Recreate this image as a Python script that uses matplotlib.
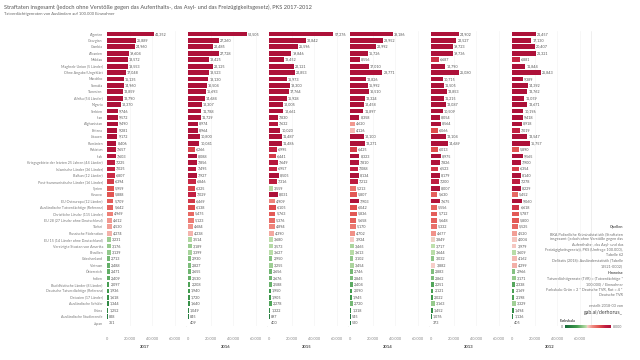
import numpy as np
import matplotlib.pyplot as plt
from matplotlib.colors import LinearSegmentedColormap, Normalize

plt.rcParams['font.family'] = ['Lato', 'DejaVu Sans']

# categories (sorted by 2017)
labels = ['Algerien', 'Georgien', 'Gambia', 'Albanien', 'Moldau',
          'Maghreb-Union (5 Länder)', 'Ohne Angabe/Ungeklärt', 'Marokko', 'Somalia',
          'Tunesien', 'Afrika (54 Länder)', 'Nigeria', 'Serbien', 'Iran', 'Afghanistan',
          'Eritrea', 'Litauen', 'Rumänien', 'Pakistan', 'Irak',
          'Kriegsgebiete der letzten 25 Jahren (44 Länder)', 'Islamische Länder (36 Länder)',
          'Balkan (12 Länder)', 'Post-kommunistische Länder (16 Länder)', 'Syrien', 'Kosovo',
          'EU Osteuropa (12 Länder)', 'Ausländische Tatverdächtige (Referenz)',
          'Christliche Länder (115 Länder)', 'EU 28 (27 Länder ohne Deutschland)', 'Türkei',
          'Russische Föderation', 'EU 15 (14 Länder ohne Deutschland)',
          'Vereinigte Staaten von Amerika', 'Brasilien', 'Griechenland', 'Vietnam',
          'Österreich', 'Indien', 'Buddhistische Länder (8 Länder)',
          'Deutsche Tatverdächtige (Referenz)', 'Ostasien (17 Länder)', 'Ausländische Schüler',
          'China', 'Ausländische Studierende', 'Japan']

years = ['2017', '2016', '2015', '2014', '2013', '2012']

v2017 = [41352, 25889, 24960, 19604, 18572, 18553, 17048, 15135, 14960, 13859, 13790, 12370,
         9746, 9572, 9490, 9281, 9172, 8406, 7657, 7603, 7225, 7025, 6807, 6394, 5959, 5888,
         5709, 5642, 4969, 4612, 4530, 4274, 3231, 3176, 3139, 2713, 2488, 2471, 2409, 2097,
         1936, 1618, 1344, 1252, 828, 351]
v2016 = [52505, 27260, 22485, 27728, 18425, 22125, 18523, 18130, 16504, 15693, 14684, 12307,
         11788, 11729, 8974, 8964, 10800, 10041, 6266, 8088, 7856, 7495, 7927, 6846, 6325, 7029,
         6469, 6138, 5475, 5123, 4684, 4238, 3514, 3189, 3399, 2930, 2827, 2655, 2530, 2208,
         1940, 1720, 1640, 1049, 845, 409]
v2015 = [57276, 32842, 25596, 19846, 13452, 22121, 22853, 15973, 18300, 17764, 15928, 12005,
         12661, 7830, 7632, 10020, 11487, 11486, 6995, 6441, 7649, 6957, 8505, 7316, 3559, 8031,
         4909, 6105, 5763, 5376, 4894, 4390, 3680, 3573, 3627, 2950, 3255, 2656, 2676, 2588,
         1950, 1905, 2278, 1322, 897, 400]
v2014 = [38186, 28952, 22992, 15726, 8556, 17010, 28771, 13826, 15992, 16510, 13324, 12458,
         11897, 8358, 4620, 4126, 12100, 13271, 6425, 8323, 7810, 7088, 8134, 7212, 5213, 5807,
         7903, 6042, 5836, 5658, 5170, 4702, 3924, 3465, 3613, 3102, 3454, 2746, 2845, 2404,
         2090, 1945, 2720, 1318, 545, 520]
v2013 = [24902, 22527, 19723, 19736, 6687, 12790, 25080, 10715, 11505, 13853, 11215, 13087,
         10509, 8054, 8564, 6066, 13104, 14689, 6013, 8975, 7826, 6523, 8179, 7200, 8007, 5630,
         7675, 5556, 5712, 5648, 5332, 4677, 3849, 3717, 3644, 3032, 3882, 2883, 2862, 2251,
         2121, 2022, 3163, 1452, 1076, 373]
v2012 = [21457, 17130, 20407, 21321, 6881, 11844, 25843, 9389, 14392, 13762, 11059, 13671,
         10196, 9418, 8918, 7019, 13547, 15757, 5890, 9565, 7900, 6354, 8140, 7278, 8229, 5452,
         9060, 6618, 5787, 5800, 5525, 4520, 4004, 3979, 3609, 4162, 4299, 2966, 3171, 2338,
         2169, 2198, 3329, 1494, 1136, 405]
series = [v2017, v2016, v2015, v2014, v2013, v2012]

xticks = [0, 20000, 40000, 60000]
xticklabels = ['0', '20.000', '40.000', '60.000']

# green -> red scale, 0 .. 8.000
cmap = LinearSegmentedColormap.from_list('rg', [
    (0.0, '#17693a'), (0.25, '#3f9a4c'), (0.47, '#c3e2b0'), (0.485, '#f6cfc9'),
    (0.6, '#f08a80'), (0.75, '#e0504e'), (0.88, '#c21f42'), (1.0, '#ad1139')])
norm = Normalize(0, 8000, clip=True)

grey = '#6e6e6e'
W, H = 640, 360
fig = plt.figure(figsize=(6.4, 3.6), dpi=100)

n = len(labels)
y = np.arange(n)
top_px, bot_px = 30.8, 326.3
px_per = 22.5 / 20000
for i, (yr, vals) in enumerate(zip(years, series)):
    zero = 107 + 81 * i
    left = zero - 2500 * px_per
    width = 72500 * px_per
    ax = fig.add_axes([left / W, 1 - bot_px / H, width / W, (bot_px - top_px) / H])
    ax.barh(y, vals, height=0.74, color=cmap(norm(np.array(vals))), zorder=2)
    for yy, v in zip(y, vals):
        ax.text(v + 900, yy, f'{v:,}', va='center', ha='left', fontsize=2.7, color='#555555')
    ax.set_xlim(-2500, 70000)
    ax.set_ylim(n - 0.5, -0.5)
    ax.set_xticks(xticks)
    ax.set_xticklabels(xticklabels)
    ax.tick_params(axis='x', length=0, labelsize=2.8, labelcolor='#888888', pad=8)
    for g in xticks[1:]:
        ax.axvline(g, color='#f1f1f1', lw=0.4, zorder=0)
    for s in ['top', 'bottom', 'left']:
        ax.spines[s].set_visible(False)
    ax.spines['right'].set_color('#e4e4e4')
    ax.spines['right'].set_linewidth(0.4)
    if i == 0:
        ax.set_yticks(y)
        ax.set_yticklabels(labels)
        ax.tick_params(axis='y', length=0, labelsize=2.6, labelcolor='#777777', pad=1)
    else:
        ax.set_yticks([])
    fig.text((zero + 38) / W, 1 - 347 / H, yr, ha='center', va='center',
             fontsize=3.0, color='#444444', fontweight='bold')

fig.text(4 / W, 1 - 7 / H,
         'Straftaten insgesamt (jedoch ohne Verstöße gegen das Aufenthalts-, das Asyl- und das '
         'Freizügigkeitsgesetz), PKS 2017-2012',
         ha='left', va='center', fontsize=4.1, color='#555555')
fig.text(4 / W, 1 - 14 / H, 'Tatverdächtigenraten von Ausländern auf 100.000 Einwohner',
         ha='left', va='center', fontsize=3.0, color='#666666')

# notes on the right
rx = 623 / W
fig.text(rx, 1 - 226 / H, 'Quellen', ha='right', va='center', fontsize=2.7,
         color='#555555', fontweight='bold')
fig.text(rx, 1 - 232 / H,
         'BKA Polizeiliche Kriminalstatistik (Straftaten\n'
         'insgesamt (jedoch ohne Verstöße gegen das\n'
         'Aufenthalts-, das Asyl- und das\n'
         'Freizügigkeitsgesetz)), PKS (Umfrage 100.000),\n'
         'Tabelle 62\n'
         'DeStatis (2018): Ausländerstatistik (Tabelle\n'
         '12521-0002)',
         ha='right', va='top', fontsize=2.7, color=grey, linespacing=1.45)
fig.text(rx, 1 - 273 / H, 'Hinweise', ha='right', va='center', fontsize=2.7,
         color='#555555', fontweight='bold')
fig.text(rx, 1 - 277 / H,
         'Tatverdächtigenrate (TVR) = (Tatverdächtige *\n'
         '100.000) / Einwohner\n'
         'Farbskala: Grün = 2 * Deutsche TVR, Rot = 4 *\n'
         'Deutsche TVR',
         ha='right', va='top', fontsize=2.7, color=grey, linespacing=1.45)
fig.text(rx, 1 - 306 / H, 'erstellt 2018-03 von', ha='right', va='center',
         fontsize=2.7, color=grey)
fig.text(rx, 1 - 312.5 / H, 'gab.ai/derhorus_', ha='right', va='center',
         fontsize=3.8, color='#444444')

fig.text(560 / W, 1 - 321 / H, 'Farbskala', ha='left', va='center', fontsize=2.7,
         color='#444444', fontweight='bold')
cax = fig.add_axes([565 / W, 1 - 328.5 / H, 46 / W, 3.5 / H])
cax.imshow(np.linspace(0, 1, 256)[None, :], aspect='auto', cmap=cmap)
cax.set_axis_off()
fig.text(563 / W, 1 - 327 / H, '0', ha='right', va='center', fontsize=2.6, color=grey)
fig.text(613 / W, 1 - 327 / H, '8.000', ha='left', va='center', fontsize=2.6, color=grey)

fig.savefig('out.png', dpi=100)
